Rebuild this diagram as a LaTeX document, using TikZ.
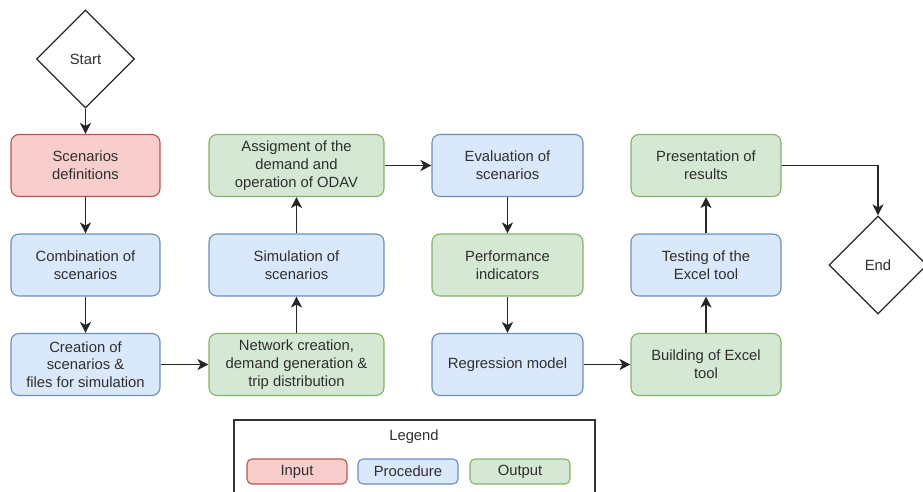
\documentclass[tikz,border=0pt]{standalone}
\usepackage{fontspec}
\setmainfont{Liberation Sans}
\usetikzlibrary{shapes.geometric,arrows.meta}
\definecolor{inF}{HTML}{F8CECC}\definecolor{inD}{HTML}{B85450}
\definecolor{prF}{HTML}{DAE8FC}\definecolor{prD}{HTML}{6C8EBF}
\definecolor{ouF}{HTML}{D5E8D4}\definecolor{ouD}{HTML}{82B366}
\definecolor{txt}{HTML}{2E2E2E}
\tikzset{
  box/.style={rounded corners=8pt, line width=1.1pt, minimum height=62pt, inner sep=2pt, align=center, text=txt, font=\fontsize{14.8}{17.7}\selectfont},
  inbox/.style={box, draw=inD, fill=inF},
  prbox/.style={box, draw=prD, fill=prF},
  oubox/.style={box, draw=ouD, fill=ouF},
  term/.style={diamond, draw=black!85, line width=1.2pt, minimum width=98pt, minimum height=98pt, inner sep=0pt, text=txt, font=\fontsize{14.8}{17.7}\selectfont},
  arr/.style={-{Stealth[length=11pt,width=11pt,inset=3pt]}, line width=1.5pt, draw=black!85},
  leg/.style={rounded corners=5pt, line width=1.1pt, minimum width=100pt, minimum height=25pt, inner sep=0pt, text=txt, font=\fontsize{14.8}{17.7}\selectfont},
}
\begin{document}
\begin{tikzpicture}[x=1pt,y=-1pt]
\useasboundingbox (0,0) rectangle (923,492);
\node[term] (start) at (85.5,59) {Start};
\node[inbox, minimum width=149pt] (def) at (85.5,165.5) {Scenarios\\definitions};
\node[prbox, minimum width=149pt] (comb) at (85.5,265) {Combination of\\scenarios};
\node[prbox, minimum width=149pt] (crea) at (85.5,364.5) {Creation of\\scenarios \&\\files for simulation};
\node[oubox, minimum width=175pt] (net) at (296.5,364.5) {Network creation,\\demand generation \&\\trip distribution};
\node[prbox, minimum width=175pt] (sim) at (296.5,265) {Simulation of\\scenarios};
\node[oubox, minimum width=175pt] (asg) at (296.5,165.5) {Assigment of the\\demand and\\operation of ODAV};
\node[prbox, minimum width=151pt] (eval) at (507.5,165.5) {Evaluation of\\scenarios};
\node[oubox, minimum width=151pt] (perf) at (507.5,265) {Performance\\indicators};
\node[prbox, minimum width=151pt] (reg) at (507.5,364.5) {Regression model};
\node[oubox, minimum width=150pt] (build) at (706,364.5) {Building of Excel\\tool};
\node[prbox, minimum width=150pt] (test) at (706,265) {Testing of the\\Excel tool};
\node[oubox, minimum width=150pt] (pres) at (706,165.5) {Presentation of\\results};
\node[term] (end) at (878,265) {End};

\draw[arr] (start.south) -- (def.north);
\draw[arr] (def.south) -- (comb.north);
\draw[arr] (comb.south) -- (crea.north);
\draw[arr] (crea.east) -- (net.west);
\draw[arr] (net.north) -- (sim.south);
\draw[arr] (sim.north) -- (asg.south);
\draw[arr] (asg.east) -- (eval.west);
\draw[arr] (eval.south) -- (perf.north);
\draw[arr] (perf.south) -- (reg.north);
\draw[arr] (reg.east) -- (build.west);
\draw[arr] (build.north) -- (test.south);
\draw[arr] (test.north) -- (pres.south);
\draw[arr] (pres.east) -| (end.north);

\draw[line width=1.1pt, draw=black!80] (234,500) -- (234,420) -- (595,420) -- (595,500);
\node[text=txt, font=\fontsize{14.8}{17.7}\selectfont] (legt) at (414,437) {Legend};
\node[leg, draw=inD, fill=inF] (lin) at (297,471.5) {Input};
\node[leg, draw=prD, fill=prF] (lpr) at (408,471.5) {Procedure};
\node[leg, draw=ouD, fill=ouF] (lou) at (520,471.5) {Output};
\end{tikzpicture}
\end{document}
